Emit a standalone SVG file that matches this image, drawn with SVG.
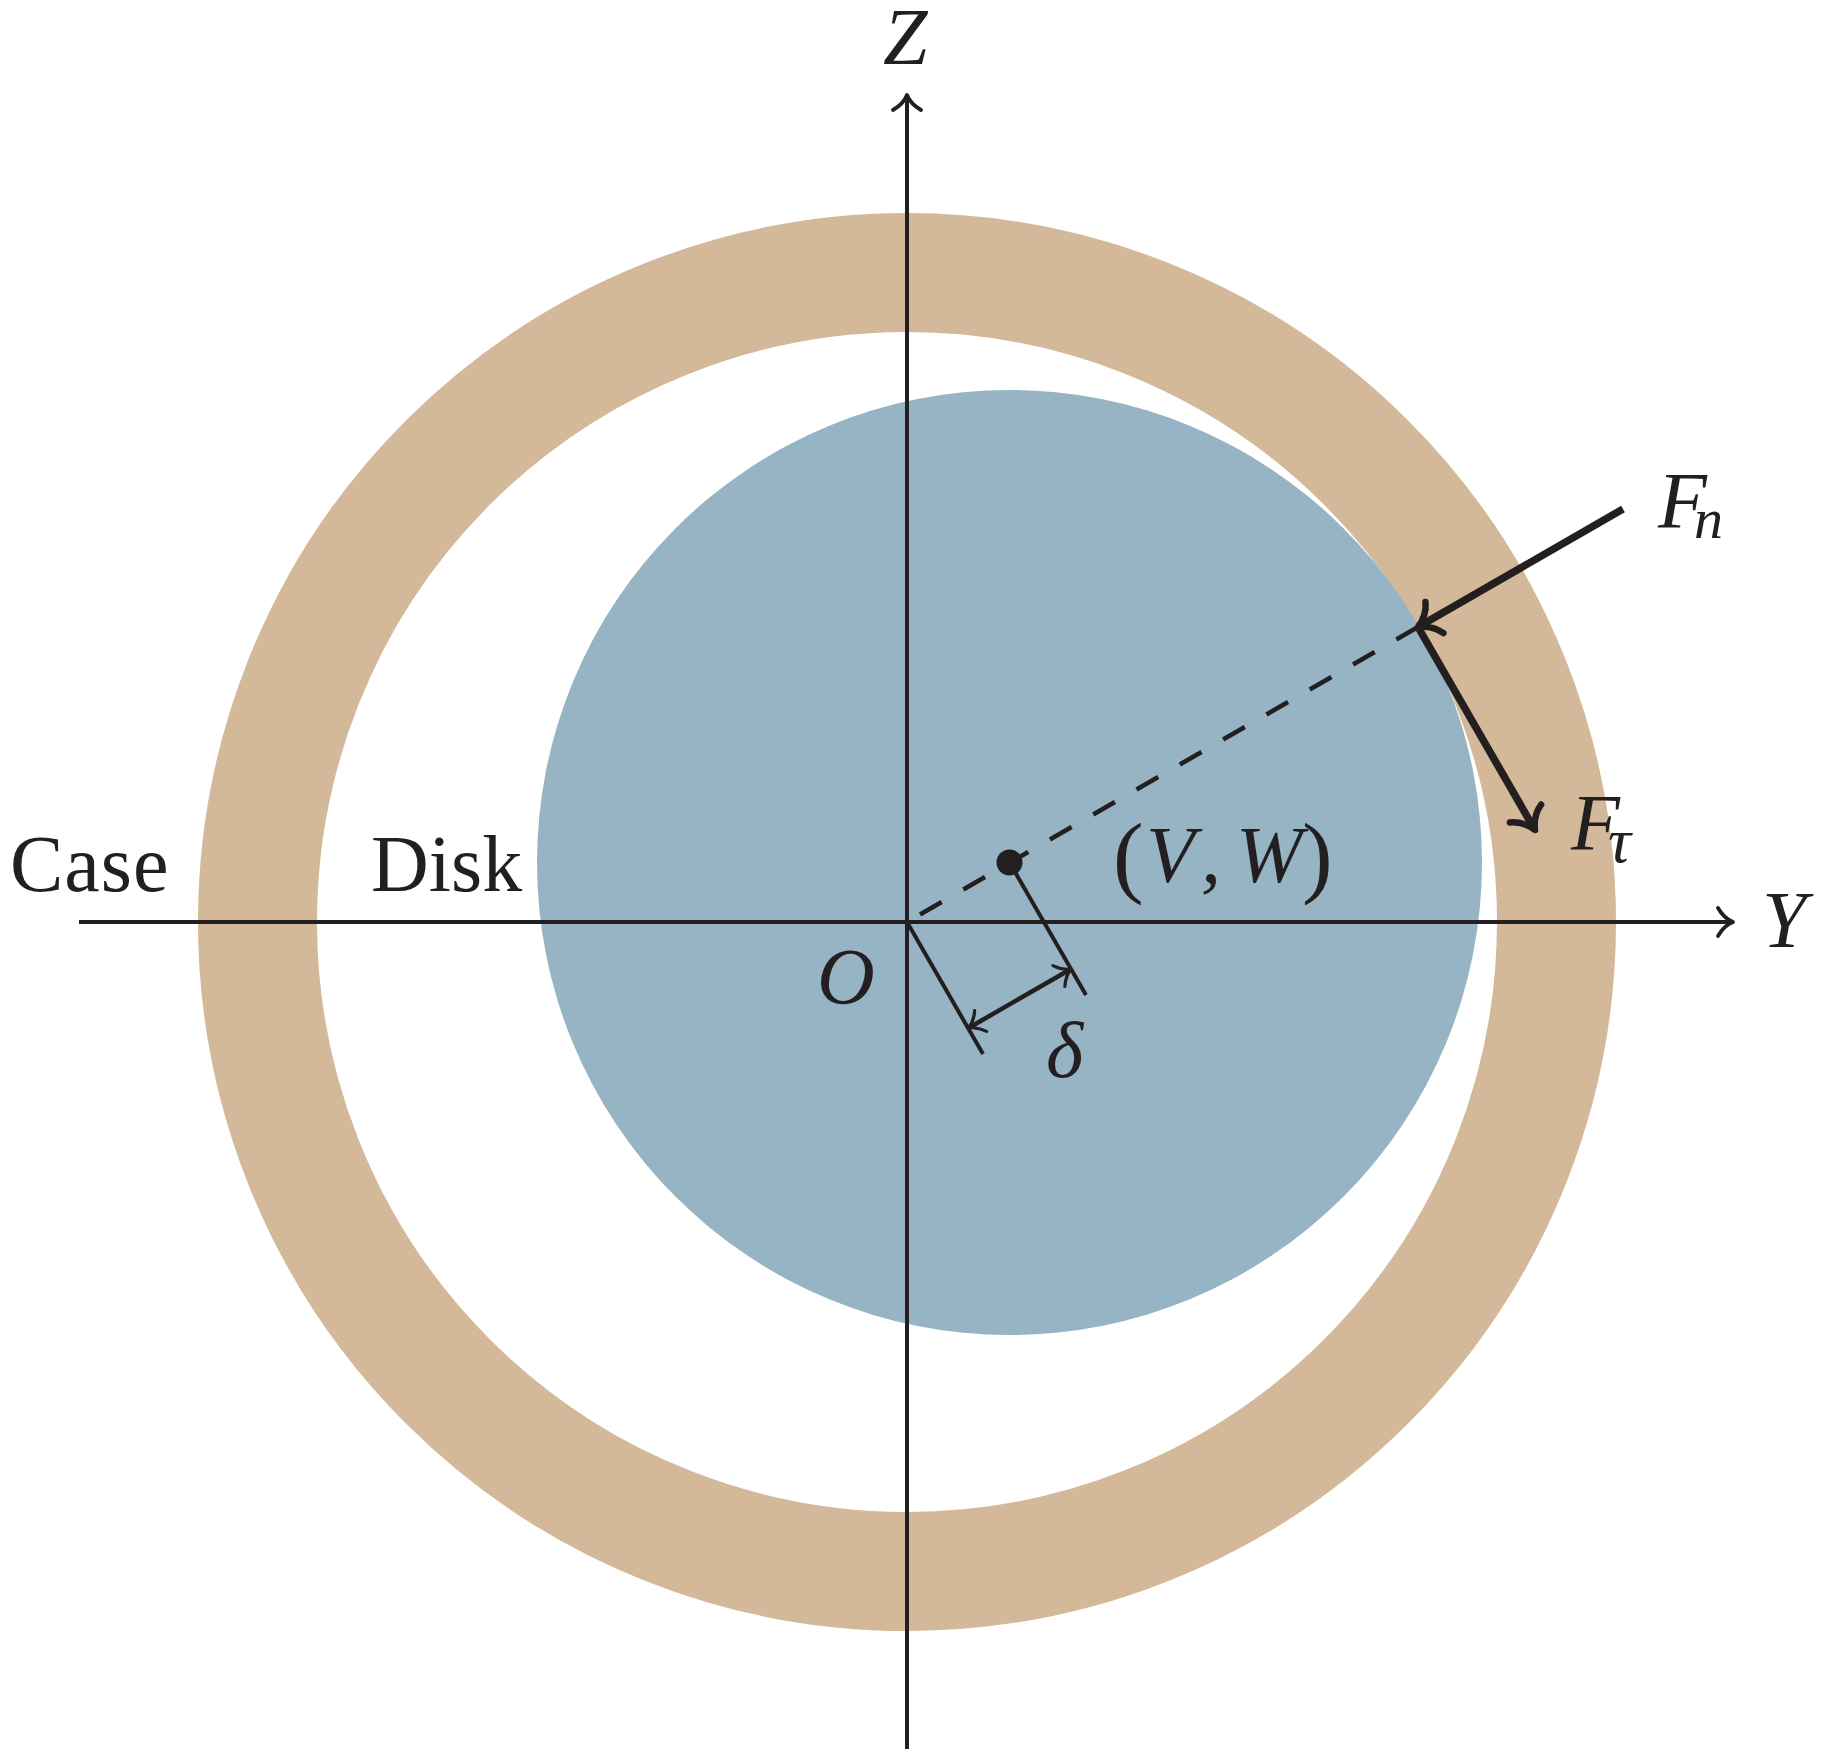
<svg xmlns="http://www.w3.org/2000/svg" width="1829" height="1761" viewBox="0 0 1829 1761">
<style>
.ln{stroke:#231f20;fill:none;stroke-width:4}
.dash{stroke-width:4.5}
.thick{stroke-width:7.5}
.dim{stroke-width:4.5}
.t{font-family:"Liberation Serif",serif;font-size:80px;fill:#231f20}
.i{font-style:italic}
.s{font-size:58px}
.tau{font-size:64px}
.p{font-size:92px}
.h{fill:none;stroke:#231f20;stroke-linecap:round;stroke-linejoin:round}
</style>
<defs>
<marker id="thin" markerUnits="userSpaceOnUse" markerWidth="40" markerHeight="40" refX="30" refY="20" orient="auto-start-reverse" viewBox="0 0 40 40">
<path class="h" stroke-width="3.8" d="M15,6 C19,13 25,18 30,20 C25,22 19,27 15,34"/>
</marker>
<marker id="mid" markerUnits="userSpaceOnUse" markerWidth="40" markerHeight="40" refX="30" refY="20" orient="auto-start-reverse" viewBox="0 0 40 40">
<path class="h" stroke-width="3.2" d="M16,8 C20,14 25,18 30,20 C25,22 20,26 16,32"/>
</marker>
<marker id="bold" markerUnits="userSpaceOnUse" markerWidth="60" markerHeight="60" refX="45" refY="30" orient="auto" viewBox="0 0 60 60">
<path class="h" stroke-width="6.5" d="M26,12 C30,21 38,27 45,30 C38,33 30,39 26,48"/>
</marker>
</defs>
<rect width="1829" height="1761" fill="#ffffff"/>
<g id="case"><circle cx="907" cy="922" r="649.5" fill="none" stroke="#d3b89a" stroke-width="119"/></g>
<g id="disk"><circle cx="1009.5" cy="862.5" r="472.5" fill="#96b4c3"/></g>
<g id="connectors">
<line class="ln" x1="79" y1="922" x2="1733" y2="922" marker-end="url(#thin)"/>
<line class="ln" x1="907" y1="1749" x2="907" y2="95" marker-end="url(#thin)"/>
<line class="ln dash" x1="1418" y1="627" x2="907" y2="922" stroke-dasharray="25 25"/>
<line class="ln" x1="907" y1="922" x2="983" y2="1054"/>
<line class="ln" x1="1009.5" y1="862.5" x2="1086" y2="995"/>
<line class="ln dim" x1="968.5" y1="1028" x2="1071" y2="969" marker-start="url(#mid)" marker-end="url(#mid)"/>
<line class="ln thick" x1="1623" y1="509" x2="1418" y2="627" marker-end="url(#bold)"/>
<line class="ln thick" x1="1418" y1="627" x2="1535" y2="830" marker-end="url(#bold)"/>
</g>
<g id="center"><circle cx="1009.5" cy="862.5" r="13" fill="#231f20"/></g>
<g id="labels">
<text class="t" x="10" y="891" letter-spacing="1">Case</text>
<text class="t" x="371" y="891">Disk</text>
<text class="t i" x="883" y="64">Z</text>
<text class="t i" x="1762" y="947">Y</text>
<text class="t i" x="817" y="1004">O</text>
<text class="t i" x="1046" y="1077">δ</text>
<text class="t i"><tspan x="1658" y="528">F</tspan><tspan class="s" x="1694" y="538">n</tspan></text>
<text class="t i"><tspan x="1571" y="850">F</tspan><tspan class="tau" x="1608" y="862">τ</tspan></text>
<text class="t" y="882"><tspan class="p" x="1113" y="886">(</tspan><tspan class="i" x="1146" y="882">V</tspan><tspan class="i" x="1201">,</tspan><tspan class="i" x="1236">W</tspan><tspan class="p" x="1302" y="886">)</tspan></text>
</g>
</svg>
